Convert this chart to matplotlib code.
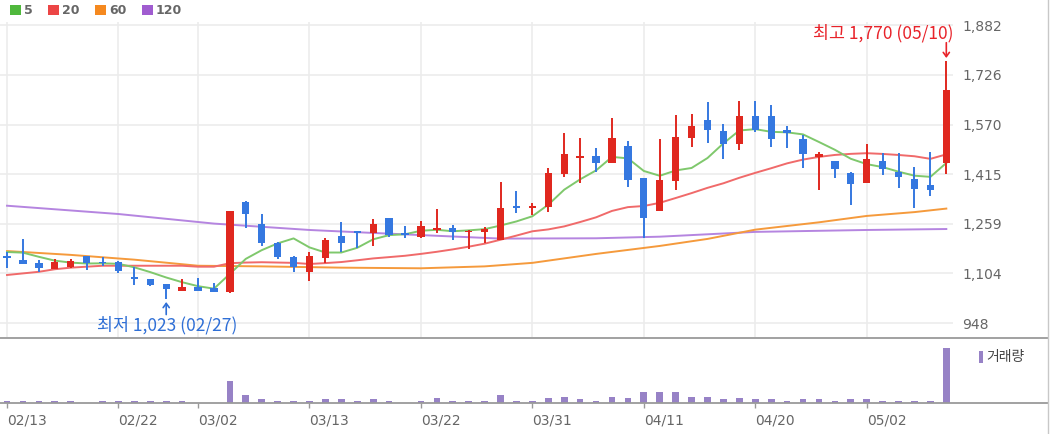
import numpy as np
import matplotlib.pyplot as plt
from matplotlib.lines import Line2D
from matplotlib.patches import Rectangle

# trading days shown on the chart
dates = ["02/13", "02/14", "02/15", "02/16", "02/17", "02/20", "02/21", "02/22", "02/23", "02/24",
         "02/27", "02/28", "03/02", "03/03", "03/06", "03/07", "03/08", "03/09", "03/10", "03/13",
         "03/14", "03/15", "03/16", "03/17", "03/20", "03/21", "03/22", "03/23", "03/24", "03/27",
         "03/28", "03/29", "03/30", "03/31", "04/03", "04/04", "04/05", "04/06", "04/07", "04/10",
         "04/11", "04/12", "04/13", "04/14", "04/17", "04/18", "04/19", "04/20", "04/21", "04/24",
         "04/25", "04/26", "04/27", "04/28", "05/02", "05/03", "05/04", "05/08", "05/09", "05/10"]

opens = [1157, 1146, 1138, 1117, 1125, 1158, 1141, 1141, 1092, 1086,
         1070, 1050, 1062, 1057, 1047, 1327, 1259, 1200, 1156, 1109,
         1153, 1221, 1236, 1230, 1278, 1230, 1219, 1240, 1245, 1234,
         1234, 1209, 1315, 1309, 1311, 1415, 1466, 1472, 1451, 1504,
         1402, 1299, 1393, 1529, 1585, 1551, 1509, 1598, 1598, 1552,
         1524, 1470, 1456, 1419, 1388, 1456, 1422, 1400, 1381, 1449]
highs = [1172, 1211, 1146, 1149, 1148, 1160, 1154, 1143, 1123, 1087,
         1070, 1085, 1090, 1073, 1300, 1330, 1289, 1202, 1157, 1170,
         1214, 1264, 1237, 1273, 1279, 1253, 1268, 1306, 1256, 1239,
         1250, 1391, 1362, 1324, 1433, 1543, 1527, 1496, 1590, 1519,
         1402, 1524, 1600, 1602, 1640, 1571, 1645, 1645, 1631, 1566,
         1537, 1485, 1456, 1422, 1508, 1480, 1480, 1438, 1485, 1770]
lows = [1120, 1133, 1109, 1117, 1120, 1115, 1127, 1104, 1068, 1065,
        1023, 1050, 1050, 1047, 1044, 1247, 1190, 1150, 1109, 1081,
        1136, 1172, 1183, 1191, 1219, 1214, 1214, 1230, 1209, 1180,
        1198, 1209, 1292, 1287, 1297, 1405, 1388, 1423, 1451, 1374,
        1216, 1299, 1365, 1501, 1512, 1462, 1490, 1548, 1501, 1496,
        1435, 1365, 1402, 1318, 1388, 1412, 1370, 1308, 1346, 1415]
closes = [1152, 1133, 1120, 1141, 1143, 1138, 1136, 1112, 1086, 1068,
          1054, 1062, 1050, 1047, 1300, 1289, 1198, 1156, 1125, 1159,
          1209, 1198, 1230, 1258, 1224, 1223, 1253, 1245, 1235, 1238,
          1242, 1310, 1309, 1316, 1419, 1477, 1472, 1449, 1527, 1397,
          1279, 1397, 1532, 1566, 1553, 1509, 1598, 1553, 1524, 1545,
          1477, 1479, 1431, 1383, 1461, 1431, 1407, 1368, 1365, 1678]
volumes = [170, 170, 170, 170, 170, 0, 170, 170, 170, 170,
           170, 170, 0, 0, 2130, 770, 330, 170, 170, 170,
           330, 330, 170, 330, 170, 0, 170, 470, 170, 170,
           170, 770, 170, 170, 470, 600, 330, 170, 600, 470,
           1070, 1070, 1070, 600, 600, 330, 470, 330, 330, 170,
           330, 330, 170, 330, 330, 170, 170, 170, 170, 5430]

ma5 = [1171, 1169, 1156, 1144, 1137.8, 1135, 1135.6, 1134, 1123, 1108,
       1091.2, 1076.4, 1064, 1056.2, 1102.6, 1149.6, 1176.8, 1198, 1213.6, 1185.4,
       1169.4, 1169.4, 1184.2, 1210.8, 1223.8, 1226.6, 1237.6, 1240.6, 1236, 1238.8,
       1242.6, 1254, 1266.8, 1283, 1319.2, 1366.2, 1398.6, 1426.6, 1468.8, 1464.4,
       1424.8, 1409.8, 1426.4, 1434.2, 1465.4, 1511.4, 1551.6, 1555.8, 1547.4, 1545.8,
       1539.4, 1515.6, 1491.2, 1463, 1446.2, 1437, 1422.6, 1410, 1406.4, 1449.8]
ma20 = [1099, 1104, 1109, 1117, 1122, 1125, 1128, 1128, 1128, 1128,
        1128, 1128, 1125, 1125, 1136, 1138, 1139, 1138, 1137, 1133.5,
        1136.3, 1139.6, 1145.1, 1150.9, 1155.0, 1159.2, 1165.1, 1171.7, 1179.2, 1187.7,
        1197.1, 1209.5, 1222.4, 1235.9, 1241.8, 1251.2, 1264.9, 1279.6, 1299.7, 1311.6,
        1315.1, 1325.0, 1340.1, 1355.5, 1372.0, 1386.3, 1403.5, 1418.9, 1433.4, 1448.7,
        1460.5, 1468.9, 1475.0, 1478.4, 1480.5, 1478.2, 1474.9, 1470.9, 1462.8, 1476.8]
ma60_idx = [0, 4, 8, 12, 16, 21, 26, 30, 33, 37, 41, 44, 47, 51, 54, 57, 59]
ma60 = [1174, 1162, 1147, 1128, 1126, 1122, 1120, 1126, 1137, 1165, 1190, 1212, 1241, 1264, 1284, 1296, 1307]
ma120_idx = [0, 7, 13, 19, 22, 26, 31, 37, 41, 47, 54, 59]
ma120 = [1316, 1290, 1260, 1240, 1233, 1224, 1213, 1214, 1219, 1234, 1240, 1243]

tick_dates = ["02/13", "02/22", "03/02", "03/13", "03/22", "03/31", "04/11", "04/20", "05/02"]
y_ticks = [948, 1104, 1259, 1415, 1570, 1726, 1882]
ma_names = ["5", "20", "60", "120"]

UP = "#e0281f"
DOWN = "#3578e0"
MA_LINE = ["#7fc86c", "#f06a6a", "#f59a3c", "#b585e0"]
MA_KEY = ["#4fb83c", "#ec4545", "#f5891f", "#a05cd0"]
VOL = "#9782c6"
GRID = "#ececec"
KR = ["Noto Sans CJK KR", "DejaVu Sans"]

W, H = 1050, 434
fig = plt.figure(figsize=(W / 100, H / 100), dpi=100)


def fx(px):
    return px / W


def fy(py):
    return 1 - py / H


ax = fig.add_axes([0, fy(337), fx(953), fy(22) - fy(337)])
axv = fig.add_axes([0, fy(402.7), fx(953), fy(338) - fy(402.7)])

x = np.arange(len(dates))
o = np.array(opens)
c = np.array(closes)
colors = np.where(c >= o, UP, DOWN)
tick_idx = [dates.index(d) for d in tick_dates]

# moving averages behind the candles
ax.plot(ma120_idx, ma120, color=MA_LINE[3], lw=1.4, zorder=2)
ax.plot(ma60_idx, ma60, color=MA_LINE[2], lw=1.4, zorder=2)
ax.plot(x, ma20, color=MA_LINE[1], lw=1.4, zorder=2)
ax.plot(x, ma5, color=MA_LINE[0], lw=1.4, zorder=2)

# candles
ax.vlines(x, lows, highs, colors=colors, lw=1.4, zorder=3)
ax.bar(x, np.maximum(np.abs(c - o), 4), bottom=np.minimum(o, c), width=0.46,
       color=colors, zorder=4)

ax.set_xlim(-0.44, 59.42)
ax.set_ylim(904.8, 1891.4)
ax.set_yticks(y_ticks)
ax.set_yticklabels([f"{v:,}" for v in y_ticks])
ax.yaxis.tick_right()
ax.set_xticks(tick_idx)
ax.set_xticklabels([])
ax.tick_params(axis="both", length=0)
ax.tick_params(axis="y", pad=6.5, labelsize=10, labelcolor="#666666")
ax.grid(True, color=GRID, lw=1.2, zorder=0)
for s in ax.spines.values():
    s.set_visible(False)

# high / low markers
i_hi = int(np.argmax(highs))
i_lo = int(np.argmin(lows))
ax.annotate("", xy=(i_hi, highs[i_hi]), xytext=(0, 13), textcoords="offset points",
            arrowprops=dict(arrowstyle="->,head_width=0.22,head_length=0.3", color="#e8232a",
                            lw=1.2, shrinkA=0, shrinkB=2), zorder=5)
ax.annotate(f"최고 {highs[i_hi]:,} ({dates[i_hi]})", xy=(i_hi, highs[i_hi]), xytext=(5, 19.5),
            textcoords="offset points", ha="right", va="center", color="#e8232a",
            fontsize=12.5, family=KR)
ax.annotate("", xy=(i_lo, lows[i_lo]), xytext=(0, -11), textcoords="offset points",
            arrowprops=dict(arrowstyle="->,head_width=0.22,head_length=0.3", color="#2f6fd6",
                            lw=1.2, shrinkA=0, shrinkB=2), zorder=5)
ax.annotate(f"최저 {lows[i_lo]:,} ({dates[i_lo]})", xy=(i_lo, lows[i_lo]), xytext=(1, -19),
            textcoords="offset points", ha="center", va="center", color="#2f6fd6",
            fontsize=12.5, family=KR)

# volume panel
axv.bar(x, volumes, width=0.42, color=VOL, zorder=3)
axv.set_xlim(-0.44, 59.42)
axv.set_ylim(0, 6458)
axv.set_yticks([])
axv.set_xticks(tick_idx)
axv.set_xticklabels(tick_dates, ha="left")
axv.tick_params(axis="x", length=3.6, width=1, color="#999999", pad=4.5,
                labelsize=10, labelcolor="#666666")
for s in axv.spines.values():
    s.set_visible(False)

# panel borders
line_kw = dict(transform=fig.transFigure, color="#9a9a9a", lw=1.3)
fig.add_artist(Line2D([0, fx(1048)], [fy(338), fy(338)], **line_kw))
fig.add_artist(Line2D([0, fx(1048)], [fy(402.7), fy(402.7)], **line_kw))
fig.add_artist(Line2D([fx(1048), fx(1048)], [0, 1], transform=fig.transFigure,
                      color="#c8c8c8", lw=1.0))

# moving average key (top left)
key_x = [10, 48, 95, 142]
for kx, name, col in zip(key_x, ma_names, MA_KEY):
    fig.add_artist(Rectangle((fx(kx), fy(15)), 11 / W, 10 / H, transform=fig.transFigure,
                             color=col, lw=0))
    fig.text(fx(kx + 14), fy(10), name, ha="left", va="center", fontsize=9,
             fontweight="bold", color="#666666")

# volume key
fig.add_artist(Rectangle((fx(979), fy(363)), 4 / W, 12 / H, transform=fig.transFigure,
                         color=VOL, lw=0))
fig.text(fx(986), fy(357), "거래량", ha="left", va="center", fontsize=10,
         color="#444444", family=KR)

fig.savefig("out.png", dpi=100)
